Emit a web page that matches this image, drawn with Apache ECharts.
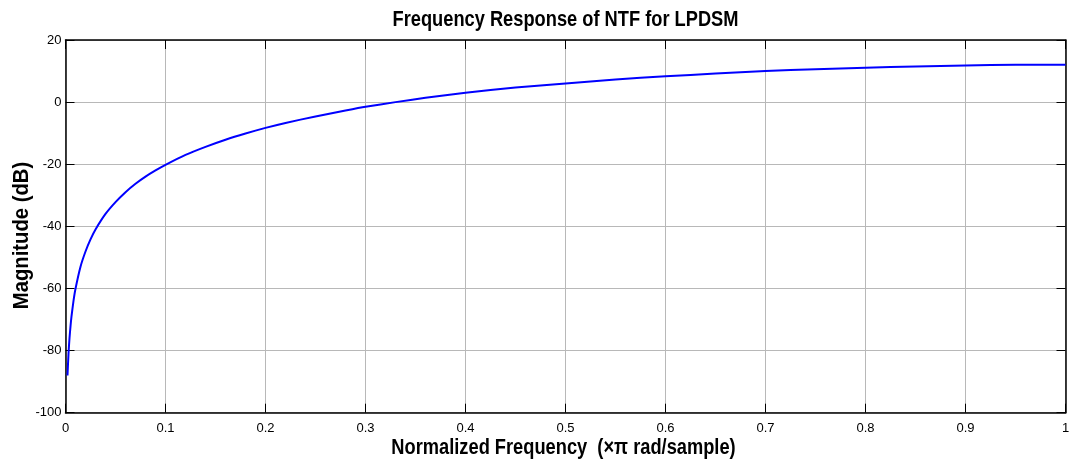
<!DOCTYPE html>
<html>
<head>
<meta charset="utf-8">
<title>Frequency Response of NTF for LPDSM</title>
<script src="https://cdn.jsdelivr.net/npm/echarts@6/dist/echarts.min.js"></script>
<style>
  html, body { margin: 0; padding: 0; background: #ffffff; }
  #chart { width: 1073px; height: 470px; }
</style>
</head>
<body>
<div id="chart"></div>
<script>
// Normalized frequency (x pi rad/sample)
const freq = [
  0.002, 0.003, 0.004, 0.005, 0.006, 0.008, 0.01, 0.015, 0.02, 0.025,
  0.03, 0.04, 0.05, 0.06, 0.07, 0.08, 0.09, 0.1, 0.12, 0.14,
  0.16, 0.18, 0.2, 0.22, 0.25, 0.28, 0.3, 0.33, 0.36, 0.4,
  0.45, 0.5, 0.55, 0.6, 0.65, 0.7, 0.75, 0.8, 0.85, 0.9,
  0.95, 1.0
];
// Magnitude of the noise transfer function (dB)
const magDb = [
  -88, -81, -76, -72.2, -69, -64, -60.1, -53, -48.1, -44.2,
  -41, -36, -32.2, -29, -26.3, -24, -22, -20.2, -17, -14.4,
  -12.1, -10.1, -8.3, -6.7, -4.6, -2.7, -1.5, 0.0, 1.4, 3.0,
  4.7, 6.0, 7.3, 8.3, 9.2, 10.0, 10.6, 11.1, 11.5, 11.8,
  12.0, 12.0
];
const xRange = [0, 1];
const yRange = [-100, 20];
const titleText = 'Frequency Response of NTF for LPDSM';
const xName = 'Normalized Frequency  (\u00d7\u03c0 rad/sample)';
const yName = 'Magnitude (dB)';

const chart = echarts.init(document.getElementById('chart'), null, { renderer: 'canvas' });
const font = '"Liberation Sans", Arial, sans-serif';
const boxLine = { show: true, onZero: false, lineStyle: { color: '#000', width: 1.5 } };
const inTick = { show: true, inside: true, length: 9, lineStyle: { color: '#000', width: 1 } };
const gridLine = { show: true, lineStyle: { color: '#b8b8b8', width: 1 } };

// Bold, horizontally condensed heading text
function condensedText(text, x, y, rotation, squeeze) {
  return {
    type: 'text', x: x, y: y, rotation: rotation || 0, scaleX: squeeze || 0.83,
    style: {
      text: text, fill: '#000', align: 'center', verticalAlign: 'middle',
      font: 'bold 22px ' + font
    }
  };
}

chart.setOption({
  animation: false,
  backgroundColor: '#ffffff',
  grid: { left: 65.5, right: 7.5, top: 40, bottom: 57.3, containLabel: false, outerBoundsMode: 'none' },
  graphic: [
    condensedText(titleText, 565.5, 20),
    condensedText(xName, 563.5, 448),
    condensedText(yName, 21.5, 235.5, Math.PI / 2, 0.92)
  ],
  xAxis: [{
    type: 'value', position: 'bottom', min: xRange[0], max: xRange[1], interval: 0.1,
    axisLine: boxLine, axisTick: inTick, splitLine: gridLine,
    axisLabel: { margin: 9, fontFamily: font, fontSize: 13, color: '#000',
      formatter: v => String(+v.toFixed(1)) }
  }, {
    type: 'value', position: 'top', min: xRange[0], max: xRange[1], interval: 0.1,
    axisLine: boxLine, axisTick: inTick, splitLine: { show: false }, axisLabel: { show: false }
  }],
  yAxis: [{
    type: 'value', position: 'left', min: yRange[0], max: yRange[1], interval: 20,
    axisLine: boxLine, axisTick: inTick, splitLine: gridLine,
    axisLabel: { margin: 4, fontFamily: font, fontSize: 13, color: '#000' }
  }, {
    type: 'value', position: 'right', min: yRange[0], max: yRange[1], interval: 20,
    axisLine: boxLine, axisTick: inTick, splitLine: { show: false }, axisLabel: { show: false }
  }],
  series: [{
    type: 'line',
    data: freq.map((f, i) => [f, magDb[i]]),
    showSymbol: false,
    smooth: 0.2,
    lineStyle: { color: '#0000ff', width: 2 },
    itemStyle: { color: '#0000ff' }
  }]
});
</script>
</body>
</html>
